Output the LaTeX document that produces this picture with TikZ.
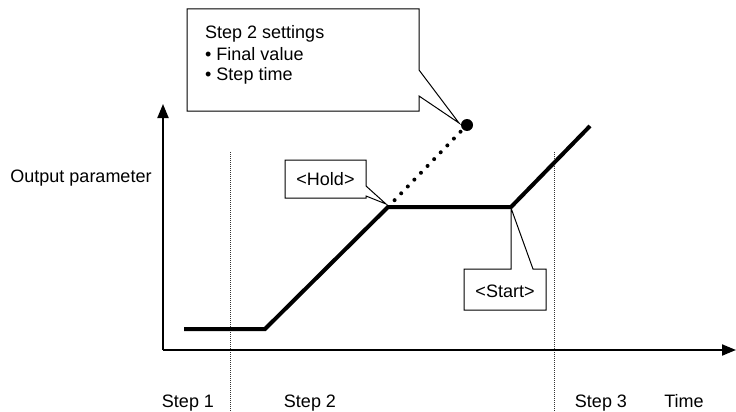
\documentclass[tikz,border=0pt]{standalone}
\usepackage{fontspec}
\setmainfont{Liberation Sans}
\usetikzlibrary{arrows.meta}
\begin{document}
\begin{tikzpicture}[x=1pt,y=-1pt,
  lbl/.style={font=\fontsize{18}{21.5}\selectfont, inner sep=0pt},
  axis/.style={line width=2pt, -{Triangle[length=14pt,width=11pt]}},
  guide/.style={line width=1pt, black!80, dash pattern=on 1pt off 1pt},
  profile/.style={line width=4pt, line join=miter},
  callout/.style={draw=black, line width=1pt, fill=white, line join=miter},
  dotline/.style={line width=4pt, line cap=round, dash pattern=on 0pt off 9.5pt}]
\useasboundingbox (0,0) rectangle (736,412);
% guides
\coordinate (g1t) at (230,152); \coordinate (g1b) at (230,412);
\coordinate (g2t) at (554,152); \coordinate (g2b) at (554,412);
\draw[guide] (g1t) -- (g1b);
\draw[guide] (g2t) -- (g2b);
% axes
\coordinate (O) at (163,350);
\coordinate (Ytop) at (163,104);
\coordinate (Xend) at (736,350);
\draw[axis] (O) -- (Ytop);
\draw[axis] (O) -- (Xend);
% profile
\coordinate (p0) at (184,329);
\coordinate (p1) at (265,329);
\coordinate (hold) at (388,207);
\coordinate (start) at (511,207);
\coordinate (p4) at (590,126);
\draw[profile] (p0) -- (p1) -- (hold) -- (start) -- (p4);
% dotted target
\coordinate (target) at (467,125);
\draw[dotline] (hold) -- (target);
\fill (target) circle (6pt);
% big callout
\draw[callout] (187,9) -- (419,9) -- (419,70) -- (459,123) -- (419,96) -- (419,111) -- (187,111) -- cycle;
\node[lbl, anchor=base west] (set1) at (205,39) {Step 2 settings};
\node[lbl, anchor=base west] (set2) at (205,60) {• Final value};
\node[lbl, anchor=base west] (set3) at (205,81) {• Step time};
% hold callout
\draw[callout] (285,160) -- (366,160) -- (366,186) -- (386,204) -- (366,196) -- (366,198) -- (285,198) -- cycle;
\node[lbl, anchor=base] (holdtxt) at (325.5,185) {<Hold>};
% start callout
\draw[callout] (464,269) -- (511,269) -- (511,208) -- (533,269) -- (546,269) -- (546,310) -- (464,310) -- cycle;
\node[lbl, anchor=base] (starttxt) at (505,297) {<Start>};
% labels
\node[lbl, anchor=base] (ylab) at (81,182) {Output parameter};
\node[lbl, anchor=base] (s1) at (188,407) {Step 1};
\node[lbl, anchor=base] (s2) at (310,407) {Step 2};
\node[lbl, anchor=base] (s3) at (601,407) {Step 3};
\node[lbl, anchor=base] (time) at (684,407) {Time};
\end{tikzpicture}
\end{document}
